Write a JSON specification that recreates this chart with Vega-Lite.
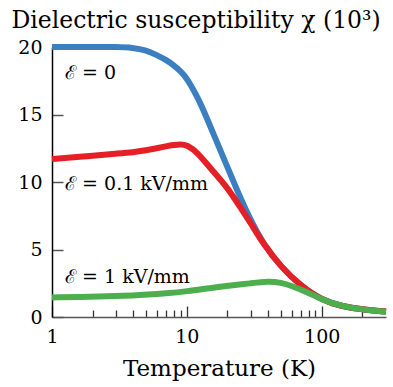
{
  "$schema": "https://vega.github.io/schema/vega-lite/v6.json",
  "width": 334,
  "height": 270,
  "autosize": "none",
  "padding": {"left": 52, "top": 47, "right": 7, "bottom": 70},
  "background": "white",
  "config": {"view": {"stroke": null}, "font": "DejaVu Serif"},
  "datasets": {
    "curves": [
      {"s": "E0", "T": 1, "v": 20}, {"s": "E0", "T": 2, "v": 20}, {"s": "E0", "T": 3, "v": 20}, {"s": "E0", "T": 4, "v": 19.95},
      {"s": "E0", "T": 5, "v": 19.75}, {"s": "E0", "T": 6, "v": 19.4}, {"s": "E0", "T": 7, "v": 19.05}, {"s": "E0", "T": 8, "v": 18.65},
      {"s": "E0", "T": 9, "v": 18.2}, {"s": "E0", "T": 10, "v": 17.7}, {"s": "E0", "T": 12, "v": 16.3}, {"s": "E0", "T": 14, "v": 14.8},
      {"s": "E0", "T": 16, "v": 13.4}, {"s": "E0", "T": 18, "v": 12.2}, {"s": "E0", "T": 20, "v": 11.1}, {"s": "E0", "T": 25, "v": 8.8},
      {"s": "E0", "T": 30, "v": 7.1}, {"s": "E0", "T": 37, "v": 5.4}, {"s": "E0", "T": 50, "v": 3.7}, {"s": "E0", "T": 70, "v": 2.3},
      {"s": "E0", "T": 100, "v": 1.25}, {"s": "E0", "T": 140, "v": 0.8}, {"s": "E0", "T": 200, "v": 0.55}, {"s": "E0", "T": 300, "v": 0.4},
      {"s": "E01", "T": 1, "v": 11.7}, {"s": "E01", "T": 2, "v": 11.95}, {"s": "E01", "T": 3, "v": 12.1}, {"s": "E01", "T": 4, "v": 12.2},
      {"s": "E01", "T": 5, "v": 12.35}, {"s": "E01", "T": 6, "v": 12.5}, {"s": "E01", "T": 7, "v": 12.65}, {"s": "E01", "T": 8, "v": 12.75},
      {"s": "E01", "T": 9, "v": 12.8}, {"s": "E01", "T": 10, "v": 12.75}, {"s": "E01", "T": 12, "v": 12.2}, {"s": "E01", "T": 15, "v": 11.0},
      {"s": "E01", "T": 20, "v": 9.6}, {"s": "E01", "T": 25, "v": 8.1}, {"s": "E01", "T": 30, "v": 6.9}, {"s": "E01", "T": 37, "v": 5.4},
      {"s": "E01", "T": 50, "v": 3.7}, {"s": "E01", "T": 70, "v": 2.3}, {"s": "E01", "T": 100, "v": 1.25}, {"s": "E01", "T": 140, "v": 0.8},
      {"s": "E01", "T": 200, "v": 0.55}, {"s": "E01", "T": 300, "v": 0.4},
      {"s": "E1", "T": 1, "v": 1.45}, {"s": "E1", "T": 2, "v": 1.5}, {"s": "E1", "T": 3, "v": 1.55}, {"s": "E1", "T": 4, "v": 1.6},
      {"s": "E1", "T": 5, "v": 1.65}, {"s": "E1", "T": 7, "v": 1.75}, {"s": "E1", "T": 10, "v": 1.9}, {"s": "E1", "T": 15, "v": 2.15},
      {"s": "E1", "T": 20, "v": 2.3}, {"s": "E1", "T": 30, "v": 2.5}, {"s": "E1", "T": 40, "v": 2.65}, {"s": "E1", "T": 50, "v": 2.55},
      {"s": "E1", "T": 60, "v": 2.3}, {"s": "E1", "T": 80, "v": 1.8}, {"s": "E1", "T": 100, "v": 1.3}, {"s": "E1", "T": 140, "v": 0.8},
      {"s": "E1", "T": 200, "v": 0.55}, {"s": "E1", "T": 300, "v": 0.38}
    ],
    "labels": [
      {"label": "ℰ = 0", "T": 1.25, "v": 18.1},
      {"label": "ℰ = 0.1 kV/mm", "T": 1.25, "v": 9.85},
      {"label": "ℰ = 1 kV/mm", "T": 1.25, "v": 2.96}
    ]
  },
  "encoding": {
    "x": {
      "field": "T", "type": "quantitative",
      "scale": {"type": "log", "domain": [1, 300], "nice": false},
      "axis": {
        "title": "Temperature (K)",
        "titleFontSize": 23, "titleFontWeight": "normal", "titleColor": "black",
        "titleY": 58, "titleBaseline": "alphabetic",
        "values": [1, 2, 3, 4, 5, 6, 7, 8, 9, 10, 20, 30, 40, 50, 60, 70, 80, 90, 100, 200],
        "labelExpr": "datum.value == 1 || datum.value == 10 || datum.value == 100 ? datum.label : ''",
        "labelFontSize": 19, "labelColor": "black", "labelFlush": false,
        "tickSize": {"condition": {"test": "datum.value == 1 || datum.value == 10 || datum.value == 100", "value": -11}, "value": -7},
        "tickColor": "#333", "tickWidth": 1.3,
        "labelPadding": 21,
        "domainColor": "#555", "domainWidth": 1.5,
        "grid": false
      }
    },
    "y": {
      "field": "v", "type": "quantitative",
      "scale": {"domain": [0, 20], "nice": false},
      "axis": {
        "title": "Dielectric susceptibility χ (10³)",
        "titleAngle": 0, "titleX": -41, "titleY": -20,
        "titleAlign": "left", "titleBaseline": "alphabetic",
        "titleFontSize": 23.5, "titleFontWeight": "normal", "titleColor": "black",
        "values": [0, 5, 10, 15, 20],
        "labelFontSize": 19, "labelColor": "black",
        "tickSize": -11, "tickColor": "#555", "tickWidth": 1.5,
        "labelPadding": 21,
        "domainColor": "black", "domainWidth": 1.5,
        "grid": false
      }
    }
  },
  "layer": [
    {
      "data": {"name": "curves"},
      "transform": [{"filter": "datum.s == 'E0'"}],
      "mark": {"type": "line", "color": "#3b7fc0", "strokeWidth": 6, "interpolate": "basis", "strokeCap": "butt"}
    },
    {
      "data": {"name": "curves"},
      "transform": [{"filter": "datum.s == 'E01'"}],
      "mark": {"type": "line", "color": "#e41f26", "strokeWidth": 6, "interpolate": "basis", "strokeCap": "butt"}
    },
    {
      "data": {"name": "curves"},
      "transform": [{"filter": "datum.s == 'E1'"}],
      "mark": {"type": "line", "color": "#4cae4c", "strokeWidth": 6, "interpolate": "basis", "strokeCap": "butt"}
    },
    {
      "data": {"name": "labels"},
      "mark": {"type": "text", "align": "left", "baseline": "middle", "fontSize": 19, "color": "black", "font": "DejaVu Serif"},
      "encoding": {"text": {"field": "label", "type": "nominal"}}
    }
  ]
}
